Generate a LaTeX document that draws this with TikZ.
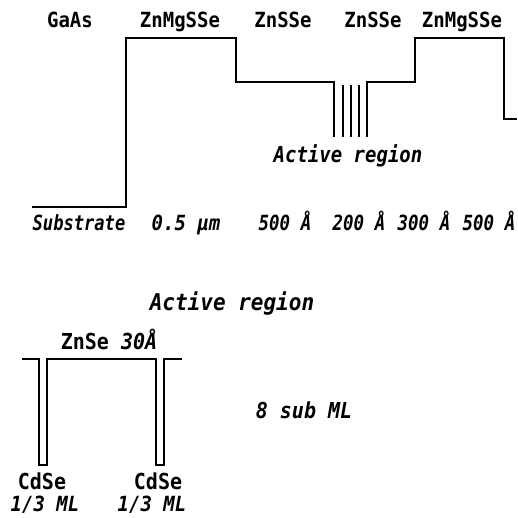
\documentclass[tikz,border=0pt]{standalone}
\usepackage{fontspec}
\usepackage{graphicx}
\setmonofont{DejaVu Sans Mono}
\tikzset{
  prof/.style={line width=2.1pt, line join=miter},
  up/.style={anchor=base, inner sep=0pt, font=\ttfamily\bfseries\fontsize{19}{19}\selectfont},
  it/.style={anchor=base, inner sep=0pt, font=\ttfamily\bfseries\itshape\fontsize{19}{19}\selectfont},
  itbig/.style={anchor=base, inner sep=0pt, font=\ttfamily\bfseries\itshape\fontsize{20}{20}\selectfont},
}
\newcommand{\tall}[2][1]{\scalebox{#1}[1.1]{#2}}
\begin{document}
\begin{tikzpicture}[x=1pt,y=-1pt]
\useasboundingbox (0,0) rectangle (517,518);
% upper profile coordinates
\coordinate (p0) at (32,207);
\coordinate (p1) at (126,207);
\coordinate (p2) at (126,38);
\coordinate (p3) at (236,38);
\coordinate (p4) at (236,82);
\coordinate (p5) at (334,82);
\coordinate (p6) at (334,137);
\coordinate (q6) at (367,137);
\coordinate (q5) at (367,82);
\coordinate (q4) at (415,82);
\coordinate (q3) at (415,38);
\coordinate (q2) at (504,38);
\coordinate (q1) at (504,119);
\coordinate (q0) at (517,119);
\coordinate (a1t) at (343,85); \coordinate (a1b) at (343,137);
\coordinate (a2t) at (351,85); \coordinate (a2b) at (351,137);
\coordinate (a3t) at (359,85); \coordinate (a3b) at (359,137);
\draw[prof] (p0) -- (p1) -- (p2) -- (p3) -- (p4) -- (p5) -- (p6);
\draw[prof] (q6) -- (q5) -- (q4) -- (q3) -- (q2) -- (q1) -- (q0);
\draw[prof] (a1t) -- (a1b);
\draw[prof] (a2t) -- (a2b);
\draw[prof] (a3t) -- (a3b);
% upper labels
\node[up] (l1) at (70,28) {\tall{GaAs}};
\node[up] (l2) at (180,28) {\tall{ZnMgSSe}};
\node[up] (l3) at (283,28) {\tall{ZnSSe}};
\node[up] (l4) at (373,28) {\tall{ZnSSe}};
\node[up] (l5) at (462,28) {\tall{ZnMgSSe}};
\node[itbig] (act1) at (348,163) {\tall[0.95]{Active region}};
\node[it] (b1) at (79,230) {\tall[0.9]{Substrate}};
\node[it] (b2) at (186,230) {\tall{0.5 μm}};
\node[it] (b3) at (285,230) {\tall[0.92]{500 Å}};
\node[it] (b4) at (359,230) {\tall[0.92]{200 Å}};
\node[it] (b5) at (424,230) {\tall[0.92]{300 Å}};
\node[it] (b6) at (489,230) {\tall[0.92]{500 Å}};
% lower profile
\coordinate (r0) at (22,359);
\coordinate (r1) at (39,359);
\coordinate (r2) at (39,465);
\coordinate (r3) at (47,465);
\coordinate (r4) at (47,359);
\coordinate (r5) at (156,359);
\coordinate (r6) at (156,465);
\coordinate (r7) at (164,465);
\coordinate (r8) at (164,359);
\coordinate (r9) at (182,359);
\draw[prof] (r0) -- (r1) -- (r2) -- (r3) -- (r4) -- (r5) -- (r6) -- (r7) -- (r8) -- (r9);
\node[itbig] (act2) at (232,310) {\fontsize{21}{21}\selectfont\tall{Active region}};
\node[up] (zn) at (109,349) {\fontsize{20}{20}\selectfont\tall{ZnSe \textit{30Å}}};
\node[up] (c1) at (42,489) {\fontsize{20}{20}\selectfont\tall{CdSe}};
\node[up] (c2) at (158,489) {\fontsize{20}{20}\selectfont\tall{CdSe}};
\node[it] (m1) at (45,511) {\tall{1/3 ML}};
\node[it] (m2) at (152,511) {\tall{1/3 ML}};
\node[it] (sub) at (304,418) {\fontsize{20}{20}\selectfont\tall{8 sub ML}};
\end{tikzpicture}
\end{document}
